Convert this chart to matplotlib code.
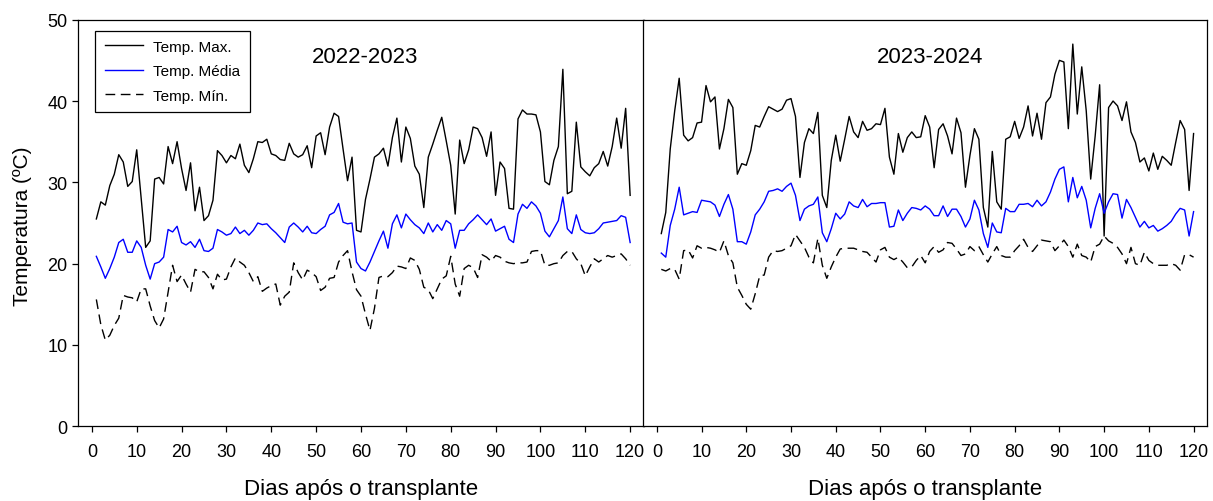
import numpy as np
import matplotlib
matplotlib.use("Agg")
import matplotlib.pyplot as plt

plt.rcParams['font.family'] = ['Liberation Sans', 'DejaVu Sans']

# Dias após o transplante (1 a 120)
days = np.arange(1, 121)

seasons = ["2022-2023", "2023-2024"]
series_labels = ["Temp. Max.", "Temp. Média", "Temp. Mín."]
x_ticks = [0, 10, 20, 30, 40, 50, 60, 70, 80, 90, 100, 110, 120]
y_ticks = [0, 10, 20, 30, 40, 50]

# Safra 2022-2023 (°C)
tmax_2223 = [
    25.5, 27.6, 27.2, 29.6, 31.0, 33.4, 32.5, 29.5, 30.1, 34.0,
    28.0, 22.0, 22.8, 30.4, 30.6, 29.8, 34.4, 32.3, 35.0, 31.7,
    29.0, 32.4, 26.5, 29.4, 25.3, 25.9, 27.8, 33.9, 33.3, 32.4,
    33.3, 32.9, 34.7, 32.1, 31.2, 32.9, 35.0, 34.9, 35.3, 33.5,
    33.3, 32.8, 32.7, 34.8, 33.5, 33.1, 33.4, 34.5, 31.8, 35.7,
    36.1, 33.4, 36.8, 38.5, 38.1, 34.1, 30.2, 33.1, 24.1, 23.9,
    27.9, 30.4, 33.1, 33.5, 34.2, 32.0, 35.5, 37.9, 32.5, 36.8,
    35.4, 32.0, 31.0, 26.9, 33.1, 34.7, 36.4, 38.0, 35.1, 32.1,
    26.1, 35.2, 32.3, 34.0, 36.8, 36.6, 35.5, 33.2, 36.2, 28.4,
    32.5, 31.7, 26.8, 26.7, 37.8, 38.9, 38.4, 38.4, 38.3, 36.2,
    30.1, 29.7, 32.7, 34.4, 43.9, 28.6, 28.9, 37.4, 31.9, 31.3,
    30.8, 31.8, 32.3, 33.8, 32.0, 34.4, 37.9, 34.2, 39.1, 28.4,
]
tmed_2223 = [
    20.9, 19.6, 18.2, 19.4, 20.8, 22.6, 23.0, 21.4, 21.4, 22.8,
    22.0, 19.8, 18.1, 20.0, 20.2, 20.8, 24.2, 23.9, 24.6, 22.6,
    22.3, 22.7, 22.0, 23.0, 21.6, 21.5, 21.9, 24.2, 23.9, 23.5,
    23.7, 24.5, 23.7, 24.1, 23.5, 24.1, 25.0, 24.8, 24.9, 24.3,
    23.8, 23.2, 22.6, 24.5, 25.0, 24.5, 23.9, 24.6, 23.8, 23.7,
    24.2, 24.6, 26.0, 26.3, 27.4, 25.1, 24.9, 25.0, 20.2, 19.4,
    19.1, 20.2, 21.5, 22.8, 24.0, 21.9, 24.9, 26.0, 24.4, 26.1,
    25.4, 24.8, 24.4, 23.7, 25.0, 23.9, 24.8, 24.1, 25.3, 24.9,
    21.9, 24.1, 24.1, 24.9, 25.4, 26.0, 25.4, 24.8, 25.5, 24.0,
    24.3, 24.6, 23.0, 22.6, 26.1, 27.3, 26.8, 27.6, 27.1, 26.2,
    24.0, 23.3, 24.3, 25.3, 28.2, 24.3, 23.7, 26.0, 24.2, 23.8,
    23.7, 23.8, 24.3, 25.0, 25.1, 25.2, 25.3, 25.9, 25.7, 22.6,
]
tmin_2223 = [
    15.6, 12.5, 10.6, 11.2, 12.4, 13.3, 16.1, 15.9, 15.8, 15.3,
    16.9, 16.9, 14.8, 13.0, 12.1, 13.2, 16.5, 19.8, 17.8, 18.6,
    17.5, 16.5, 19.3, 19.0, 19.0, 18.3, 16.9, 18.7, 18.0, 18.1,
    19.6, 20.7, 20.2, 19.8, 18.9, 17.8, 18.4, 16.6, 17.0, 17.3,
    17.5, 14.9, 16.0, 16.5, 20.1, 18.9, 18.0, 19.2, 18.9, 18.4,
    16.7, 17.1, 18.2, 18.3, 20.2, 21.0, 21.6, 19.0, 16.8, 16.0,
    13.8, 11.8, 14.5, 18.3, 18.5, 18.4, 18.9, 19.7, 19.6, 19.4,
    20.7, 20.4, 19.3, 17.1, 16.8, 15.7, 16.9, 18.1, 18.5, 20.9,
    17.5, 16.0, 19.4, 19.8, 19.5, 18.3, 21.1, 20.8, 20.3, 21.0,
    20.8, 20.3, 20.1, 20.0, 20.1, 20.1, 20.2, 21.5, 21.6, 21.6,
    19.8, 19.8, 20.0, 20.1, 21.0, 21.5, 21.5, 20.6, 20.0, 18.5,
    19.6, 20.6, 20.2, 20.6, 21.0, 20.8, 21.0, 21.2, 20.6, 19.8,
]

# Safra 2023-2024 (°C)
tmax_2324 = [
    23.7, 26.3, 34.1, 38.8, 42.8, 35.8, 35.1, 35.5, 37.3, 37.4,
    41.9, 39.9, 40.5, 34.1, 36.6, 40.2, 39.2, 31.0, 32.3, 32.1,
    33.9, 37.0, 36.8, 38.1, 39.3, 39.0, 38.7, 39.0, 40.1, 40.3,
    38.1, 30.6, 34.9, 36.6, 36.0, 38.6, 28.4, 26.9, 32.7, 35.8,
    32.6, 35.3, 38.1, 36.2, 35.5, 37.5, 36.4, 36.6, 37.2, 37.1,
    39.1, 33.1, 31.0, 36.0, 33.7, 35.5, 36.2, 35.5, 35.6, 38.2,
    36.8, 31.8, 36.5, 37.2, 35.7, 33.5, 37.9, 36.1, 29.4, 33.3,
    36.6, 35.3, 26.9, 24.5, 33.8, 27.6, 26.7, 35.3, 35.6, 37.5,
    35.4, 36.8, 39.4, 35.7, 38.5, 35.3, 39.8, 40.5, 43.3, 45.0,
    44.8, 36.6, 47.0, 38.4, 44.2, 38.8, 30.4, 35.7, 42.0, 23.4,
    39.2, 40.0, 39.4, 37.6, 39.9, 36.2, 34.9, 32.5, 33.0, 31.4,
    33.6, 31.6, 33.2, 32.7, 32.1, 34.9, 37.6, 36.5, 29.0, 36.0,
]
tmed_2324 = [
    21.3, 20.8, 24.7, 26.7, 29.4, 26.0, 26.2, 26.4, 26.3, 27.8,
    27.7, 27.6, 27.2, 25.8, 27.3, 28.5, 26.7, 22.7, 22.7, 22.4,
    23.9, 26.0, 26.7, 27.6, 28.9, 29.0, 29.2, 28.9, 29.5, 29.9,
    28.4, 25.3, 26.7, 27.1, 27.3, 28.2, 23.8, 22.7, 24.3, 26.2,
    25.5, 26.1, 27.6, 27.1, 26.9, 27.9, 27.0, 27.4, 27.4, 27.5,
    27.5, 24.5, 24.6, 26.6, 25.3, 26.2, 26.9, 26.8, 26.6, 27.1,
    26.7, 25.9, 25.9, 27.1, 25.8, 26.7, 26.7, 25.8, 24.5, 25.5,
    27.8, 26.6, 23.7, 22.0, 25.0, 23.9, 23.8, 26.8, 26.4, 26.4,
    27.3, 27.3, 27.4, 27.0, 27.8, 27.1, 27.6, 28.8, 30.4, 31.6,
    31.9, 27.6, 30.6, 28.1, 29.5, 27.8, 24.4, 26.8, 28.6, 26.2,
    27.6, 28.6, 28.5, 25.6, 27.9, 26.9, 25.7, 24.5, 25.2, 24.4,
    24.7, 24.0, 24.3, 24.7, 25.2, 26.1, 26.8, 26.6, 23.4, 26.4,
]
tmin_2324 = [
    19.3, 19.1, 19.4, 19.3, 18.1, 21.6, 21.7, 20.7, 22.2, 21.9,
    22.0, 21.9, 21.7, 21.4, 22.8, 21.0, 20.1, 17.1, 16.1, 15.0,
    14.4, 16.3, 18.5, 18.6, 20.8, 21.6, 21.5, 21.6, 21.9, 22.2,
    23.6, 22.8, 22.0, 20.8, 20.1, 23.1, 19.8, 18.2, 19.6, 20.8,
    21.8, 21.9, 21.9, 21.9, 21.7, 21.5, 21.4, 20.8, 20.2, 21.7,
    22.0, 20.8, 20.5, 20.8, 20.2, 19.5, 19.6, 20.4, 21.0, 20.1,
    21.5, 22.1, 21.4, 21.7, 22.6, 22.5, 21.8, 21.0, 21.2, 22.1,
    21.6, 22.1, 21.1, 20.2, 21.2, 22.1, 21.0, 20.8, 20.8, 21.6,
    22.2, 23.0, 22.0, 21.5, 22.2, 22.9, 22.8, 22.7, 21.6, 22.2,
    22.9, 22.1, 20.8, 22.4, 21.0, 20.8, 20.2, 22.1, 22.4, 23.4,
    22.8, 22.5, 22.0, 21.2, 20.0, 22.0, 20.0, 19.8, 21.4, 20.4,
    20.0, 19.8, 19.8, 19.8, 20.0, 19.8, 19.2, 21.1, 21.1, 20.8,
]

data = [
    (tmax_2223, tmed_2223, tmin_2223),
    (tmax_2324, tmed_2324, tmin_2324),
]

W, H = 1213, 502
fig = plt.figure(figsize=(W / 100, H / 100), dpi=100)

bottom = (H - 427.3) / H
height = (427.3 - 20.7) / H
ax_left = fig.add_axes([78.4 / W, bottom, (643.6 - 78.4) / W, height])
ax_right = fig.add_axes([643.4 / W, bottom, (1207 - 643.4) / W, height])
axes = [ax_left, ax_right]

for i, ax in enumerate(axes):
    tmax, tmed, tmin = data[i]
    ax.plot(days, tmax, color='black', lw=1.0, label=series_labels[0])
    ax.plot(days, tmed, color='#0000FF', lw=1.0, label=series_labels[1])
    ax.plot(days, tmin, color='black', lw=1.0, dashes=(7, 4),
            label=series_labels[2])

    ax.set_xlim(-3, 123)
    ax.set_ylim(0, 50)
    ax.set_xticks(x_ticks)
    ax.tick_params(axis='x', direction='out', length=4, width=0.9,
                   pad=8, labelsize=13)
    for sp in ax.spines.values():
        sp.set_linewidth(0.9)
        sp.set_color('black')

    ax.text(61, 45.5, seasons[i], ha='center', va='center', fontsize=16)
    fig.text((ax.get_position().x0 + ax.get_position().x1) / 2,
             1 - 490 / H, "Dias após o transplante",
             ha='center', va='center', fontsize=16)

ax_left.set_yticks(y_ticks)
ax_left.tick_params(axis='y', direction='out', length=4, width=0.9,
                    pad=4, labelsize=13)
ax_right.set_yticks([])

fig.text(22.5 / W, 1 - 226 / H, "Temperatura (ºC)", rotation=90,
         ha='center', va='center', fontsize=15)

leg = ax_left.legend(loc='upper left', bbox_to_anchor=(0.03, 0.973),
                     borderaxespad=0, fontsize=11, frameon=True,
                     fancybox=False, edgecolor='black', framealpha=1,
                     handlelength=2.5, handletextpad=0.7,
                     labelspacing=0.68, borderpad=0.6)
leg.get_frame().set_linewidth(0.9)

fig.savefig("out.png", dpi=100)
